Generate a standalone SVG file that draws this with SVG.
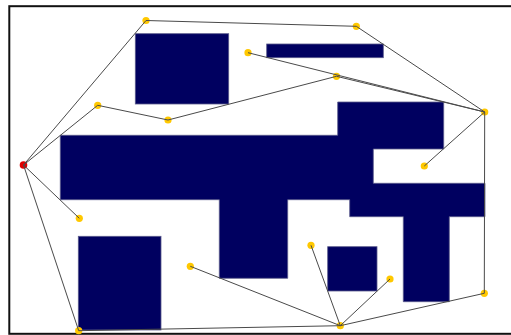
<svg xmlns="http://www.w3.org/2000/svg" width="511" height="335" viewBox="0 0 511 335">
<style>
.obs{fill:#000060;stroke:#5a5a8c;stroke-width:0.8}
.node{fill:#ffc800}
.start{fill:#e00000}
.edge{stroke:#4a4a4a;stroke-width:1;fill:none}
</style>
<rect x="0" y="0" width="511" height="335" fill="#fff"/>
<rect x="9.3" y="6.2" width="520" height="327.6" fill="#fff" stroke="#111" stroke-width="2"/>
<g id="obstacles">
<rect id="obs1" class="obs" x="135.3" y="33.7" width="93.4" height="70.3"/>
<rect id="obs2" class="obs" x="266.7" y="44" width="116.6" height="13.7"/>
<path id="obs3" class="obs" d="M60.3,135.3 H337.7 V102 H443.7 V149 H373.3 V183.3 H485 V216.7 H449.3 V301.7 H403.3 V216.7 H349.7 V199.7 H287.7 V278.3 H219.3 V199.7 H60.3 Z"/>
<rect id="obs4" class="obs" x="78.3" y="236.3" width="82.7" height="93.7"/>
<rect id="obs5" class="obs" x="327.7" y="246.7" width="49.3" height="44.3"/>
</g>
<g id="nodes">
<g id="start"><circle class="start" cx="23.5" cy="165" r="3.8"/></g>
<g id="nA"><circle class="node" cx="146" cy="20.5" r="3.6"/></g>
<g id="nB"><circle class="node" cx="356.3" cy="26.3" r="3.6"/></g>
<g id="nC"><circle class="node" cx="248" cy="52.7" r="3.6"/></g>
<g id="nD"><circle class="node" cx="336.5" cy="76.3" r="3.6"/></g>
<g id="nE"><circle class="node" cx="484.7" cy="112" r="3.6"/></g>
<g id="nF"><circle class="node" cx="97.7" cy="105.3" r="3.6"/></g>
<g id="nG"><circle class="node" cx="168" cy="120" r="3.6"/></g>
<g id="nH"><circle class="node" cx="424.3" cy="166" r="3.6"/></g>
<g id="nI"><circle class="node" cx="79.3" cy="218.3" r="3.6"/></g>
<g id="nJ"><circle class="node" cx="190.3" cy="266.3" r="3.6"/></g>
<g id="nK"><circle class="node" cx="78.7" cy="330.7" r="3.6"/></g>
<g id="nL"><circle class="node" cx="311" cy="245.3" r="3.6"/></g>
<g id="nM"><circle class="node" cx="390" cy="279" r="3.6"/></g>
<g id="nN"><circle class="node" cx="340.3" cy="325.7" r="3.6"/></g>
<g id="nO"><circle class="node" cx="484.3" cy="293.3" r="3.6"/></g>
</g>
<g id="connectors" class="edge">
<line x1="23.5" y1="165" x2="146" y2="20.5"/>
<line x1="23.5" y1="165" x2="97.7" y2="105.3"/>
<line x1="23.5" y1="165" x2="79.3" y2="218.3"/>
<line x1="23.5" y1="165" x2="78.7" y2="330.7"/>
<line x1="146" y1="20.5" x2="356.3" y2="26.3"/>
<line x1="356.3" y1="26.3" x2="484.7" y2="112"/>
<line x1="97.7" y1="105.3" x2="168" y2="120"/>
<line x1="168" y1="120" x2="336.5" y2="76.3"/>
<line x1="336.5" y1="76.3" x2="484.7" y2="112"/>
<line x1="248" y1="52.7" x2="484.7" y2="112"/>
<line x1="484.7" y1="112" x2="424.3" y2="166"/>
<line x1="484.7" y1="112" x2="484.3" y2="293.3"/>
<line x1="484.3" y1="293.3" x2="340.3" y2="325.7"/>
<line x1="340.3" y1="325.7" x2="78.7" y2="330.7"/>
<line x1="340.3" y1="325.7" x2="190.3" y2="266.3"/>
<line x1="340.3" y1="325.7" x2="311" y2="245.3"/>
<line x1="340.3" y1="325.7" x2="390" y2="279"/>
</g>
</svg>
